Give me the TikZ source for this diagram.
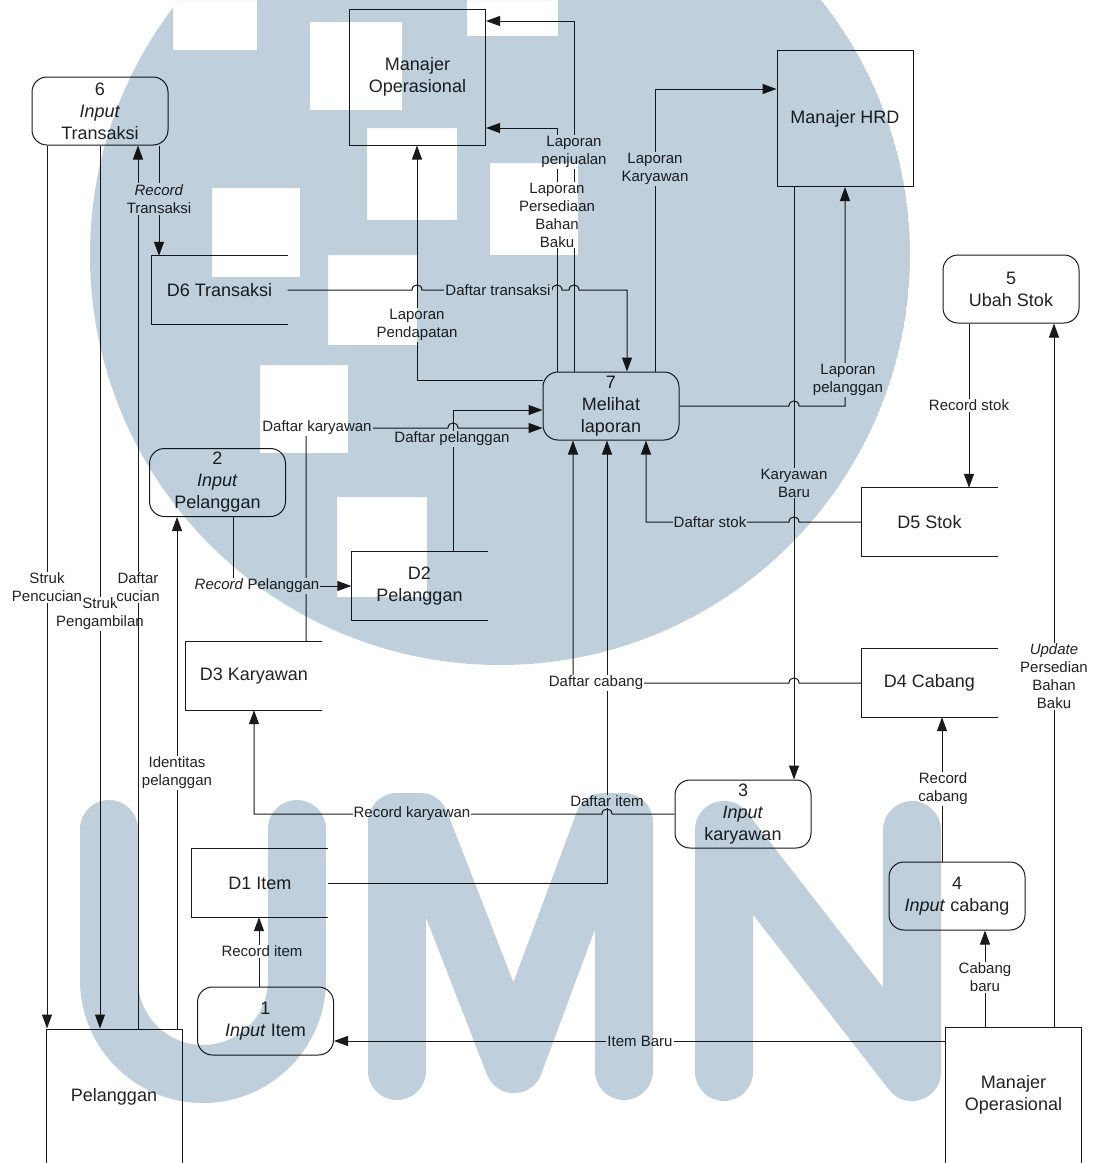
\documentclass[tikz,border=0pt]{standalone}
\usepackage{fontspec}
\setmainfont{Liberation Sans}
\usetikzlibrary{arrows.meta,calc}
\definecolor{ink}{HTML}{1A1A1A}
\definecolor{txt}{HTML}{222222}
\definecolor{wm}{RGB}{191,207,220}
\newcommand\boxfont{\fontsize{18pt}{22pt}\selectfont}
\newcommand\lblfont{\fontsize{15pt}{18pt}\selectfont}
\newcommand\openbox[1]{\draw[ln] (#1.north east) -- (#1.north west) -- (#1.south west) -- (#1.south east);}
\begin{document}
\begin{tikzpicture}[x=1pt,y=-1pt,
  ln/.style={draw=ink, line width=1pt},
  flow/.style={ln, -{Triangle[length=14pt,width=10pt]}},
  proc/.style={ln, rounded corners=15pt, minimum width=136pt, minimum height=68pt, inner sep=0pt, align=center, font=\boxfont, text=txt},
  store/.style={minimum width=136pt, minimum height=68pt, inner sep=0pt, align=center, font=\boxfont, text=txt},
  ext/.style={ln, minimum width=136pt, minimum height=136pt, inner sep=0pt, align=center, font=\boxfont, text=txt},
  lbl/.style={fill=white, inner sep=1pt, align=center, font=\lblfont, text=txt},
]
\fill[white] (0,0) rectangle (1094,1163);
\useasboundingbox (0,0) rectangle (1094,1163);

% external entities
\node[ext] (mo) at (417.5,77) {Manajer\\Operasional};
\node[ext] (hrd) at (845,118.5) {Manajer HRD};
\node[ext] (mob) at (1013.5,1095) {Manajer\\Operasional};
\node[ext] (pel) at (114,1097) {Pelanggan};

% processes
\node[proc] (p6) at (100,111) {6\\\textit{Input}\\Transaksi};
\node[proc] (p7) at (611,406) {7\\Melihat\\laporan};
\node[proc] (p5) at (1011,289) {5\\Ubah Stok};
\node[proc] (p2) at (217.5,482.5) {2\\\textit{Input}\\Pelanggan};
\node[proc] (p3) at (743,814) {3\\\textit{Input}\\karyawan};
\node[proc] (p4) at (957,896) {4\\\textit{Input} cabang};
\node[proc] (p1) at (265.5,1021) {1\\\textit{Input} Item};

% data stores
\node[store] (d6) at (219.5,290) {D6 Transaksi};
\node[store] (d2) at (419.5,586) {D2\\Pelanggan};
\node[store] (d3) at (254,676) {D3 Karyawan};
\node[store] (d1) at (260,883) {D1 Item};
\node[store] (d5) at (929.5,522) {D5 Stok};
\node[store] (d4) at (929.5,683) {D4 Cabang};
\openbox{d6}\openbox{d2}\openbox{d3}\openbox{d1}\openbox{d5}\openbox{d4}

% flows
\draw[flow] (p6.south -| 47,0) -- (pel.north -| 47,0);
\draw[flow] (p6.south -| 100,0) -- (pel.north -| 100,0);
\node[lbl] (l2) at (100,614) {Struk\\Pengambilan};
\draw[flow] (pel.north -| 138,0) -- (p6.south -| 138,0);
\draw[flow] (p6.south -| 159,0) -- (d6.north -| 159,0);
\draw[flow] (pel.north -| 177,0) -- (p2.south -| 177,0);
\draw[flow] (p2.south -| 233,0) |- (d2.west);
\draw[flow] (d2.north -| 453,0) |- (p7.west |- 0,410);
\node[lbl] (l7) at (452,439) {Daftar pelanggan};
\draw[flow] (d3.north -| 306,0) -- (306,428) -- (448,428)
   .. controls (448,421.3) and (458,421.3) .. (458,428) -- (p7.west |- 0,428);
\draw[flow] (p7.west |- 0,380) -| (mo.south -| 417,0);
\draw[flow] (d6.east) -- (412,290)
   .. controls (412,283.3) and (422,283.3) .. (422,290) -- (552,290)
   .. controls (552,283.3) and (562,283.3) .. (562,290) -- (569,290)
   .. controls (569,283.3) and (579,283.3) .. (579,290) -- (627,290) -- (p7.north -| 627,0);
\draw[flow] (p7.north -| 557,0) |- (mo.east |- 0,128);
\draw[flow] (p7.north -| 574,0) |- (mo.east |- 0,21);
\draw[flow] (p7.north -| 655,0) |- (hrd.west |- 0,89);
\draw[flow] (p7.east |- 0,406) -- (789,406)
   .. controls (789,399.3) and (799,399.3) .. (799,406) -- (845,406) -- (hrd.south -| 845,0);
\draw[flow] (hrd.south -| 794,0) -- (p3.north -| 794,0);
\draw[flow] (p5.south -| 969,0) -- (d5.north -| 969,0);
\draw[flow] (d5.west) -- (799,522)
   .. controls (799,515.3) and (789,515.3) .. (789,522) -- (646,522) -- (p7.south -| 646,0);
\draw[flow] (mob.north -| 1054,0) -- (p5.south -| 1054,0);
\draw[flow] (d4.west) -- (799,683)
   .. controls (799,676.3) and (789,676.3) .. (789,683) -- (573,683) -- (p7.south -| 573,0);
\draw[flow] (p4.north -| 942,0) -- (d4.south -| 942,0);
\draw[flow] (mob.north -| 985,0) -- (p4.south -| 985,0);
\draw[flow] (p3.west) -- (612,814)
   .. controls (612,807.3) and (602,807.3) .. (602,814) -- (254,814) -- (d3.south -| 254,0);
\draw[flow] (d1.east) -- (607,883) -- (p7.south -| 607,0);
\draw[flow] (p1.north -| 259,0) -- (d1.south -| 259,0);
\draw[flow] (mob.west |- 0,1041) -- (p1.east |- 0,1041);

% labels
\node[lbl] (l1) at (47,587) {Struk\\Pencucian};
\node[lbl] (l3) at (138,587) {Daftar\\cucian};
\node[lbl] (l4) at (159,199) {\textit{Record}\\Transaksi};
\node[lbl] (l5) at (177,773) {Identitas\\pelanggan};
\node[lbl] (l6) at (257,586) {\textit{Record} Pelanggan};
\node[lbl] (l8) at (317,428) {Daftar karyawan};
\node[lbl] (l9) at (417,325) {Laporan\\Pendapatan};
\node[lbl] (l10) at (498,290) {Daftar transaksi};
\node[lbl] (l11) at (557,215) {Laporan\\Persediaan\\Bahan\\Baku};
\node[lbl] (l12) at (574,152) {Laporan\\penjualan};
\node[lbl] (l13) at (655,169) {Laporan\\Karyawan};
\node[lbl] (l14) at (848,380) {Laporan\\pelanggan};
\node[lbl] (l15) at (794,483) {Karyawan\\Baru};
\node[lbl] (l16) at (969,405) {Record stok};
\node[lbl] (l17) at (710,522) {Daftar stok};
\node[lbl] (l18) at (1054,676) {\textit{Update}\\Persedian\\Bahan\\Baku};
\node[lbl] (l19) at (596,683) {Daftar cabang};
\node[lbl] (l20) at (943,789) {Record\\cabang};
\node[lbl] (l21) at (985,977) {Cabang\\baru};
\node[lbl] (l22) at (412,814) {Record karyawan};
\node[lbl] (l23) at (607,801) {Daftar item};
\node[lbl] (l24) at (262,951) {Record item};
\node[lbl] (l25) at (640,1041) {Item Baru};

% watermark (drawn over everything, multiplied)
\begin{scope}[blend mode=multiply]
  \begin{scope}
    \clip (500,255) circle[radius=410];
    \fill[wm, even odd rule] (500,255) circle[radius=410]
      (173,0) rectangle (257,50)
      (310,22) rectangle (402,110)
      (467,0) rectangle (558,36)
      (367,128) rectangle (457,220)
      (490,163) rectangle (578,255)
      (212,188) rectangle (300,277)
      (328,255) rectangle (417,345)
      (260,365) rectangle (348,453)
      (337,497) rectangle (427,597);
  \end{scope}
  \draw[wm, line width=58pt, line cap=round, line join=round]
    (109,829) -- (109,980) arc[start angle=180, end angle=0, radius=94] -- (297,829);
  \draw[wm, line width=58pt, line cap=round, line join=round]
    (397,1071) -- (397,822) -- (420,822) -- (514,1064) -- (604,822) -- (624,822) -- (624,1071);
  \draw[wm, line width=58pt, line cap=round, line join=round]
    (724,1072) -- (724,830) -- (912,1072) -- (912,830);
\end{scope}
\end{tikzpicture}
\end{document}
